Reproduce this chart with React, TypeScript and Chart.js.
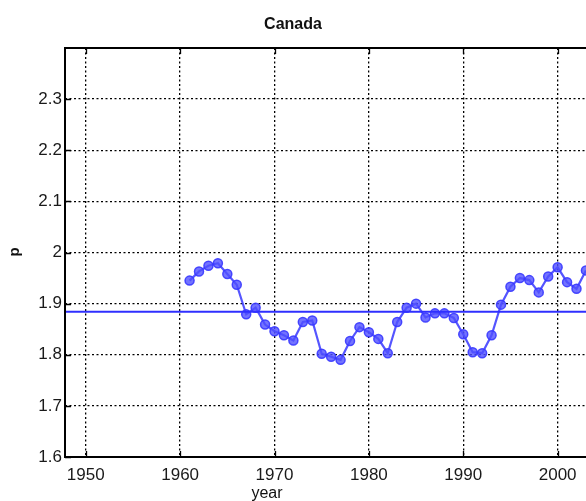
import React, { useEffect, useRef } from "react";
import { Chart, registerables } from "chart.js";

Chart.register(...registerables);

const years = [
  1961, 1962, 1963, 1964, 1965, 1966, 1967, 1968, 1969, 1970,
  1971, 1972, 1973, 1974, 1975, 1976, 1977, 1978, 1979, 1980,
  1981, 1982, 1983, 1984, 1985, 1986, 1987, 1988, 1989, 1990,
  1991, 1992, 1993, 1994, 1995, 1996, 1997, 1998, 1999, 2000,
  2001, 2002, 2003,
];
const pValues = [
  1.945, 1.963, 1.974, 1.979, 1.958, 1.937, 1.879, 1.892, 1.859, 1.846,
  1.838, 1.828, 1.864, 1.867, 1.802, 1.796, 1.79, 1.827, 1.854, 1.844,
  1.831, 1.803, 1.864, 1.892, 1.9, 1.873, 1.881, 1.881, 1.872, 1.84,
  1.805, 1.803, 1.838, 1.898, 1.933, 1.95, 1.946, 1.922, 1.953, 1.971,
  1.942, 1.929, 1.965,
];
const meanValue = 1.884;
const xTicks = [1950, 1960, 1970, 1980, 1990, 2000, 2010];
const yTicks = [1.6, 1.7, 1.8, 1.9, 2.0, 2.1, 2.2, 2.3];
const xMin = 1947.8;
const xMax = 2010;
const yMin = 1.6;
const yMax = 2.4;

const FONT = "'Liberation Sans', Arial, Helvetica, sans-serif";

const framePlugin = {
  id: "frame",
  afterDraw(chart: any) {
    const { ctx, chartArea } = chart;
    const { left, right, top, bottom } = chartArea;
    const xs = chart.scales.x;
    const ys = chart.scales.y;
    ctx.save();
    ctx.strokeStyle = "#000";
    ctx.lineWidth = 1.3;
    ctx.setLineDash([]);
    const tl = 6;
    ctx.beginPath();
    xTicks.forEach((t) => {
      const px = Math.round(xs.getPixelForValue(t)) + 0.5;
      ctx.moveTo(px, bottom);
      ctx.lineTo(px, bottom - tl);
      ctx.moveTo(px, top);
      ctx.lineTo(px, top + tl);
    });
    yTicks.forEach((t) => {
      const py = Math.round(ys.getPixelForValue(t)) + 0.5;
      ctx.moveTo(left, py);
      ctx.lineTo(left + tl, py);
      ctx.moveTo(right, py);
      ctx.lineTo(right - tl, py);
    });
    ctx.stroke();
    ctx.lineWidth = 2;
    ctx.strokeRect(left, top, right - left, bottom - top);

    ctx.fillStyle = "#111";
    ctx.textAlign = "center";
    ctx.textBaseline = "middle";
    ctx.font = `bold 16px ${FONT}`;
    ctx.fillText("Canada", 293, 25);
    ctx.font = `16px ${FONT}`;
    ctx.fillText("year", 267, 494);
    ctx.save();
    ctx.translate(15, 252);
    ctx.rotate(-Math.PI / 2);
    ctx.font = `bold 15px ${FONT}`;
    ctx.fillText("p", 0, 0);
    ctx.restore();
    ctx.restore();
  },
};

export default function App() {
  const ref = useRef<HTMLCanvasElement | null>(null);
  useEffect(() => {
    if (!ref.current) return;
    const chart = new Chart(ref.current, {
      type: "line",
      data: {
        datasets: [
          {
            label: "mean",
            data: [
              { x: xMin, y: meanValue },
              { x: xMax, y: meanValue },
            ],
            borderColor: "#2f2fff",
            borderWidth: 2,
            pointRadius: 0,
            tension: 0,
          },
          {
            label: "p",
            data: years.map((y, i) => ({ x: y, y: pValues[i] })),
            borderColor: "rgba(55,55,255,0.85)",
            backgroundColor: "rgba(80,80,255,0.8)",
            pointBackgroundColor: "rgba(80,80,255,0.8)",
            pointBorderColor: "rgba(55,55,255,0.9)",
            pointBorderWidth: 1.5,
            pointRadius: 4.5,
            borderWidth: 2.2,
            tension: 0,
          },
        ],
      },
      options: {
        responsive: false,
        animation: false,
        devicePixelRatio: 1,
        layout: { padding: { top: 48, left: 0, right: 48, bottom: 0 } },
        plugins: {
          legend: { display: false },
          tooltip: { enabled: false },
          title: { display: false },
        },
        scales: {
          x: {
            type: "linear",
            min: xMin,
            max: xMax,
            afterBuildTicks: (s: any) => {
              s.ticks = xTicks.map((v) => ({ value: v }));
            },
            afterFit: (s: any) => {
              s.height = 44;
            },
            grid: {
              color: "#000",
              lineWidth: 1.3,
              drawTicks: false,
            },
            border: { display: false, dash: [2, 2.5] },
            ticks: {
              padding: 8,
              color: "#1a1a1a",
              font: { family: FONT, size: 17 },
              maxRotation: 0,
              autoSkip: false,
              callback: (v: any) => String(v),
            },
          },
          y: {
            type: "linear",
            min: yMin,
            max: yMax,
            afterBuildTicks: (s: any) => {
              s.ticks = yTicks.map((v) => ({ value: v }));
            },
            afterFit: (s: any) => {
              s.width = 65;
            },
            grid: {
              color: "#000",
              lineWidth: 1.3,
              drawTicks: false,
            },
            border: { display: false, dash: [2, 2.5] },
            ticks: {
              padding: 3,
              color: "#1a1a1a",
              font: { family: FONT, size: 17 },
              autoSkip: false,
              callback: (v: any) => String(Math.round(v * 10) / 10),
            },
          },
        },
      },
      plugins: [framePlugin],
    });
    return () => chart.destroy();
  }, []);
  return (
    <div
      style={{
        position: "fixed",
        left: 0,
        top: 0,
        width: 586,
        height: 501,
        overflow: "hidden",
        background: "#fff",
      }}
    >
      <canvas ref={ref} width={700} height={501} style={{ display: "block" }} />
    </div>
  );
}
